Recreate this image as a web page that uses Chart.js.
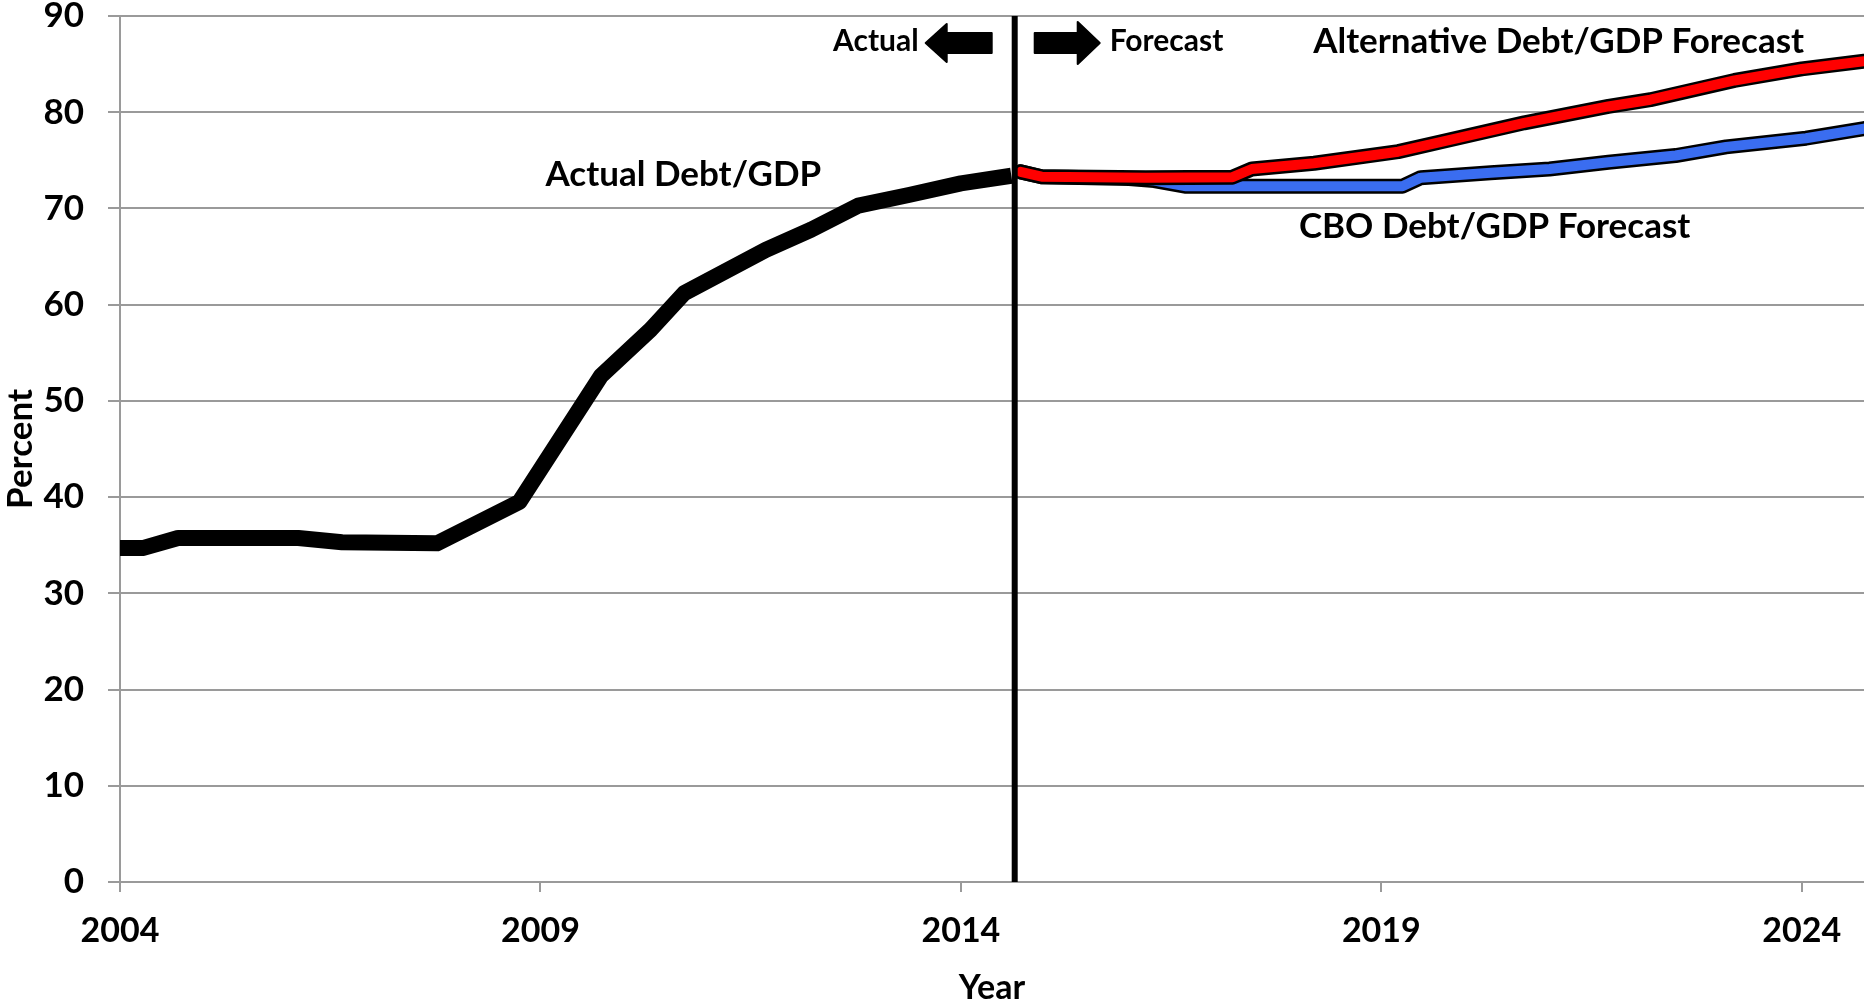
<!DOCTYPE html>
<html>
<head>
<meta charset="utf-8">
<title>Debt/GDP</title>
<script src="https://cdn.jsdelivr.net/npm/chart.js@4.4.1/dist/chart.umd.min.js"></script>
<style>
    html, body { margin: 0; padding: 0; background: #fff; }
    #wrap { width: 1864px; height: 1004px; position: relative; }
</style>
</head>
<body>
<div id="wrap"><canvas id="debtChart"></canvas></div>
<script>
// values (year, percent of GDP)
const actualYears = [2004.0, 2004.27, 2004.69, 2006.12, 2006.64, 2007.77, 2008.75, 2009.72, 2010.31, 2010.71, 2011.68, 2012.22, 2012.78, 2013.38, 2014.0, 2014.6];
const actualDebt  = [34.7, 34.7, 35.75, 35.75, 35.3, 35.2, 39.5, 52.6, 57.4, 61.2, 65.7, 67.8, 70.3, 71.4, 72.6, 73.4];

const altYears = [2014.71, 2014.96, 2016.2, 2017.23, 2017.46, 2018.2, 2019.2, 2019.7, 2020.7, 2021.7, 2022.2, 2023.2, 2024.0, 2024.74];
const altDebt  = [73.8, 73.3, 73.2, 73.25, 74.1, 74.7, 75.9, 76.9, 78.9, 80.6, 81.3, 83.3, 84.5, 85.3];

const cboYears = [2014.71, 2014.96, 2016.0, 2016.3, 2016.68, 2019.25, 2019.47, 2020.3, 2021.0, 2021.7, 2022.5, 2023.1, 2024.05, 2024.74];
const cboDebt  = [73.8, 73.3, 73.1, 72.9, 72.3, 72.3, 73.2, 73.7, 74.1, 74.8, 75.5, 76.4, 77.3, 78.3];

const xTicks = [2004, 2009, 2014, 2019, 2024];
const forecastStart = 2014.64;

function toPoints(xs, ys) {
    return xs.map((x, i) => ({ x: x, y: ys[i] }));
}

const FONT = 'Lato, "Open Sans", sans-serif';

// vertical divider, arrows and the text labels on the plot
const annotations = {
    id: 'annotations',
    afterDatasetsDraw(chart) {
        const { ctx, chartArea, scales: { x, y } } = chart;
        const lx = x.getPixelForValue(forecastStart);
        ctx.save();

        ctx.strokeStyle = '#000';
        ctx.lineWidth = 6;
        ctx.beginPath();
        ctx.moveTo(lx, chartArea.top);
        ctx.lineTo(lx, chartArea.bottom);
        ctx.stroke();

        const ay = chartArea.top + 27;
        ctx.fillStyle = '#000';
        ctx.lineJoin = 'round';
        ctx.lineWidth = 2;

        // left arrow
        ctx.beginPath();
        ctx.moveTo(lx - 89, ay);
        ctx.lineTo(lx - 68, ay - 19);
        ctx.lineTo(lx - 68, ay - 10);
        ctx.lineTo(lx - 23, ay - 10);
        ctx.lineTo(lx - 23, ay + 10);
        ctx.lineTo(lx - 68, ay + 10);
        ctx.lineTo(lx - 68, ay + 19);
        ctx.closePath();
        ctx.fill();
        ctx.stroke();

        // right arrow
        ctx.beginPath();
        ctx.moveTo(lx + 85, ay);
        ctx.lineTo(lx + 63, ay - 21);
        ctx.lineTo(lx + 63, ay - 10);
        ctx.lineTo(lx + 20, ay - 10);
        ctx.lineTo(lx + 20, ay + 10);
        ctx.lineTo(lx + 63, ay + 10);
        ctx.lineTo(lx + 63, ay + 21);
        ctx.closePath();
        ctx.fill();
        ctx.stroke();

        ctx.textBaseline = 'middle';
        ctx.font = 'bold 30px ' + FONT;
        ctx.textAlign = 'right';
        ctx.fillText('Actual', lx - 96, ay - 2);
        ctx.textAlign = 'left';
        ctx.fillText('Forecast', lx + 95, ay - 2);

        ctx.font = 'bold 35px ' + FONT;
        ctx.fillText('Actual Debt/GDP', x.getPixelForValue(2009.06), y.getPixelForValue(73.5));
        ctx.fillText('Alternative Debt/GDP Forecast', x.getPixelForValue(2018.19), y.getPixelForValue(87.3));
        ctx.fillText('CBO Debt/GDP Forecast', x.getPixelForValue(2018.02), y.getPixelForValue(68.1));

        ctx.restore();
    }
};

const ctx = document.getElementById('debtChart').getContext('2d');

new Chart(ctx, {
    type: 'line',
    data: {
        datasets: [
            {
                label: 'Actual Debt/GDP',
                data: toPoints(actualYears, actualDebt),
                borderColor: '#000',
                borderWidth: 16,
                borderJoinStyle: 'round',
                order: 1
            },
            {
                label: 'Alternative Debt/GDP Forecast',
                data: toPoints(altYears, altDebt),
                borderColor: '#ff0000',
                borderWidth: 10,
                borderJoinStyle: 'round',
                borderCapStyle: 'round',
                order: 2
            },
            {
                label: 'alt outline',
                data: toPoints(altYears, altDebt),
                borderColor: '#000',
                borderWidth: 15,
                borderJoinStyle: 'round',
                borderCapStyle: 'round',
                order: 3
            },
            {
                label: 'CBO Debt/GDP Forecast',
                data: toPoints(cboYears, cboDebt),
                borderColor: '#3a6df0',
                borderWidth: 10,
                borderJoinStyle: 'round',
                borderCapStyle: 'round',
                order: 4
            },
            {
                label: 'cbo outline',
                data: toPoints(cboYears, cboDebt),
                borderColor: '#000',
                borderWidth: 15,
                borderJoinStyle: 'round',
                borderCapStyle: 'round',
                order: 5
            }
        ]
    },
    options: {
        responsive: true,
        maintainAspectRatio: false,
        animation: false,
        devicePixelRatio: 1,
        layout: { padding: 0 },
        elements: {
            point: { radius: 0, hoverRadius: 0 },
            line: { tension: 0, fill: false }
        },
        plugins: {
            legend: { display: false },
            tooltip: { enabled: false }
        },
        scales: {
            x: {
                type: 'linear',
                min: 2004,
                max: 2024.74,
                afterBuildTicks: function (axis) {
                    axis.ticks = xTicks.map(v => ({ value: v }));
                },
                afterFit: function (scale) {
                    scale.height = 122;
                    scale.paddingRight = 0;
                },
                grid: {
                    drawOnChartArea: false,
                    color: '#9a9a9a',
                    lineWidth: 2,
                    tickLength: 10
                },
                border: { color: '#9a9a9a', width: 2 },
                ticks: {
                    color: '#000',
                    font: { family: FONT, size: 34, weight: 'bold' },
                    padding: 19,
                    maxRotation: 0,
                    callback: v => String(v)
                },
                title: {
                    display: true,
                    text: 'Year',
                    color: '#000',
                    font: { family: FONT, size: 34, weight: 'bold' },
                    padding: { top: 0, bottom: -4 }
                }
            },
            y: {
                min: 0,
                max: 90,
                afterFit: function (scale) {
                    scale.width = 120;
                    scale.paddingTop = 16;
                    scale.paddingBottom = 0;
                },
                grid: {
                    color: '#9a9a9a',
                    lineWidth: 2,
                    tickLength: 12
                },
                border: { color: '#9a9a9a', width: 2 },
                ticks: {
                    stepSize: 10,
                    color: '#000',
                    font: { family: FONT, size: 35, weight: 'bold', lineHeight: 1 },
                    padding: 24
                },
                title: {
                    display: true,
                    text: 'Percent',
                    color: '#000',
                    font: { family: FONT, size: 35, weight: 'bold' },
                    padding: { top: 0, bottom: 0 }
                }
            }
        }
    },
    plugins: [annotations]
});
</script>
</body>
</html>
